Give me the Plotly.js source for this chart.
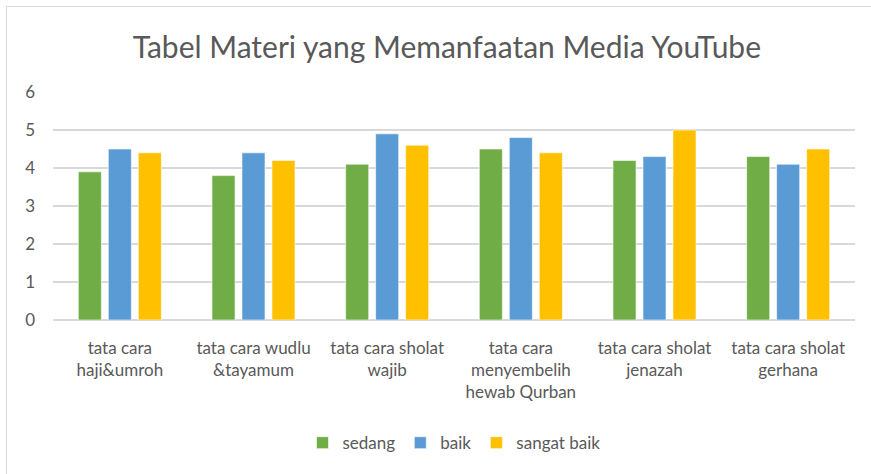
<!DOCTYPE html>
<html><head><meta charset="utf-8">
<script src="https://cdn.plot.ly/plotly-3.0.1.min.js"></script>
<style>
body{margin:0;background:#fff;overflow:hidden}
#frame{position:absolute;left:6px;top:6px;width:900px;height:500px;border:1.5px solid #d9d9d9;background:#fff}
#chart{position:absolute;left:0;top:0;width:871px;height:474px}
</style></head>
<body><div id="frame"></div><div id="chart"></div>
<script>
const categories = ["tata cara<br>haji&umroh","tata cara wudlu<br>&tayamum","tata cara sholat<br>wajib","tata cara<br>menyembelih<br>hewab Qurban","tata cara sholat<br>jenazah","tata cara sholat<br>gerhana"];
const sedang = [3.9,3.8,4.1,4.5,4.2,4.3];
const baik = [4.5,4.4,4.9,4.8,4.3,4.1];
const sangatBaik = [4.4,4.2,4.6,4.4,5.0,4.5];
const yTicks = [0,1,2,3,4,5,6];

const font = "Lato, 'Open Sans', sans-serif";
const mk = (name, y, color) => ({type:'bar', name, x:categories, y,
  marker:{color, line:{color:'rgba(255,255,255,0.6)', width:1}}, hoverinfo:'y'});
const data = [mk('sedang', sedang, '#70ad47'), mk('baik', baik, '#5b9bd5'), mk('sangat baik', sangatBaik, '#ffc000')];
const layout = {
  width:871, height:474,
  margin:{l:53, r:16, t:92, b:154},
  paper_bgcolor:'rgba(0,0,0,0)', plot_bgcolor:'rgba(0,0,0,0)',
  font:{family:font, color:'#595959', size:17},
  title:{text:'Tabel Materi yang Memanfaatan Media YouTube', font:{size:30, color:'#595959', family:font},
    x:0.513, xref:'container', xanchor:'center', y:0.9, yref:'container', yanchor:'middle'},
  barmode:'group', bargap:0.327, bargroupgap:0.23,
  xaxis:{type:'category', showgrid:false, showline:false, zeroline:false, ticks:'', tickangle:0,
    ticklabelstandoff:16, tickfont:{size:17, color:'#595959'}, automargin:false},
  yaxis:{range:[0,6], tickvals:yTicks, showgrid:true, gridcolor:'#d9d9d9', gridwidth:1.5,
    zeroline:true, zerolinecolor:'#d9d9d9', zerolinewidth:1.5, showline:false, ticks:'',
    ticklabelstandoff:17, tickfont:{size:17, color:'#595959'}, automargin:false, fixedrange:true},
  showlegend:true,
  legend:{orientation:'h', x:0.5, xanchor:'center', y:-0.54, yanchor:'middle', font:{size:17, color:'#595959'},
    itemwidth:30, tracegroupgap:0},
};
Plotly.newPlot('chart', data, layout, {displayModeBar:false, staticPlot:true});
</script></body></html>
